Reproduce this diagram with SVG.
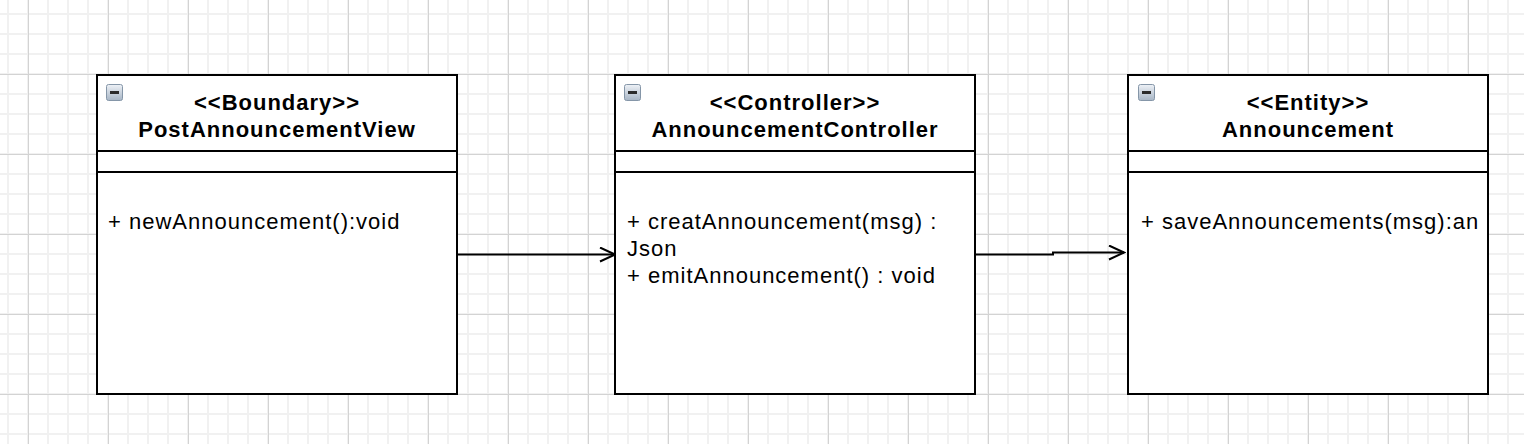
<svg xmlns="http://www.w3.org/2000/svg" width="1524" height="444" viewBox="0 0 1524 444">
  <style>
    .box { fill: #ffffff; stroke: #000000; stroke-width: 2; }
    .div { stroke: #000000; stroke-width: 2; fill: none; }
    .title { font-family: "Liberation Sans", Arial, Helvetica, sans-serif; font-size: 22px; font-weight: bold; fill: #000000; text-anchor: middle; letter-spacing: 1px; }
    .member { font-family: "Liberation Sans", Arial, Helvetica, sans-serif; font-size: 22px; fill: #000000; letter-spacing: 1px; }
    .conn { stroke: #000000; stroke-width: 2; fill: none; }
    .icon { fill: url(#iconGrad); stroke: #8596a8; stroke-width: 1; }
    .iconbar { fill: #2b2b2b; }
  </style>
  <defs>
    <pattern id="minor" patternUnits="userSpaceOnUse" x="7" y="13" width="20" height="20">
      <rect x="0" y="0" width="2" height="20" fill="#f1f1f1"/>
      <rect x="0" y="0" width="20" height="2" fill="#f1f1f1"/>
    </pattern>
    <pattern id="major" patternUnits="userSpaceOnUse" x="28" y="74" width="80" height="80">
      <rect x="0" y="0" width="1" height="80" fill="#d3d3d3"/>
      <rect x="0" y="0" width="80" height="1" fill="#d3d3d3"/>
    </pattern>
    <linearGradient id="iconGrad" x1="0" y1="0" x2="0" y2="1">
      <stop offset="0" stop-color="#eef2f7"/>
      <stop offset="1" stop-color="#a7b5c5"/>
    </linearGradient>
    <marker id="open" markerUnits="userSpaceOnUse" markerWidth="18" markerHeight="18" viewBox="0 0 18 18" refX="16" refY="8" orient="auto">
      <path d="M1,1 L16,8 L1,15" fill="none" stroke="#000000" stroke-width="2"/>
    </marker>
  </defs>

  <rect x="0" y="0" width="1524" height="444" fill="#ffffff"/>
  <rect x="0" y="0" width="1524" height="444" fill="url(#minor)"/>
  <rect x="0" y="0" width="1524" height="444" fill="url(#major)"/>

  <g id="connectors">
    <path class="conn" d="M457,254.5 H615" marker-end="url(#open)"/>
    <path class="conn" d="M975,254.5 H1053 V252.5 H1124" marker-end="url(#open)"/>
  </g>

  <g id="PostAnnouncementView">
    <rect class="box" x="97" y="75" width="360" height="319"/>
    <line class="div" x1="97" y1="151" x2="457" y2="151"/>
    <line class="div" x1="97" y1="172" x2="457" y2="172"/>
    <rect class="icon" x="106.5" y="84.5" width="16" height="16" rx="2"/>
    <rect class="iconbar" x="110" y="91" width="9" height="3"/>
    <text class="title" x="277" y="110">&lt;&lt;Boundary&gt;&gt;</text>
    <text class="title" x="277" y="137">PostAnnouncementView</text>
    <text class="member" x="108" y="229">+ newAnnouncement():void</text>
  </g>

  <g id="AnnouncementController">
    <rect class="box" x="615" y="75" width="360" height="319"/>
    <line class="div" x1="615" y1="151" x2="975" y2="151"/>
    <line class="div" x1="615" y1="172" x2="975" y2="172"/>
    <rect class="icon" x="624.5" y="84.5" width="16" height="16" rx="2"/>
    <rect class="iconbar" x="628" y="91" width="9" height="3"/>
    <text class="title" x="795" y="110">&lt;&lt;Controller&gt;&gt;</text>
    <text class="title" x="795" y="137">AnnouncementController</text>
    <text class="member" x="627" y="229">+ creatAnnouncement(msg) :</text>
    <text class="member" x="627" y="256">Json</text>
    <text class="member" x="627" y="283">+ emitAnnouncement() : void</text>
  </g>

  <g id="Announcement">
    <rect class="box" x="1128" y="75" width="360" height="319"/>
    <line class="div" x1="1128" y1="151" x2="1488" y2="151"/>
    <line class="div" x1="1128" y1="172" x2="1488" y2="172"/>
    <rect class="icon" x="1138.5" y="84.5" width="16" height="16" rx="2"/>
    <rect class="iconbar" x="1142" y="91" width="9" height="3"/>
    <text class="title" x="1308" y="110">&lt;&lt;Entity&gt;&gt;</text>
    <text class="title" x="1308" y="137">Announcement</text>
    <text class="member" x="1141" y="229">+ saveAnnouncements(msg):an</text>
  </g>
</svg>
